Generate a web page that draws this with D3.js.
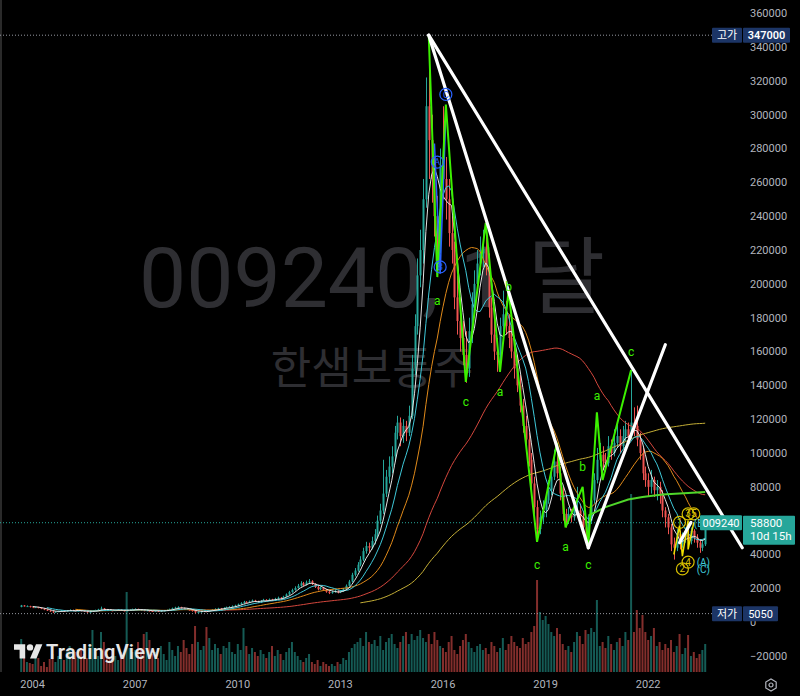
<!DOCTYPE html>
<html><head><meta charset="utf-8">
<script src="https://cdn.jsdelivr.net/npm/d3@7"></script>
<style>html,body{margin:0;padding:0;background:#000;}svg{display:block}</style>
</head><body>
<svg id="c" width="800" height="696"></svg>
<script>
// Monthly bars from 2003-09 to 2023-09, prices in thousands of won
const firstMonth = "2003-09";
const open = [
9.0,9.9,9.4,9.5,8.9,8.7,8.9,8.5,8.0,7.4,6.9,6.4,
5.9,6.2,6.5,6.8,6.6,6.9,7.2,6.8,6.6,7.0,6.7,6.4,
5.9,6.2,6.7,7.1,7.5,8.1,7.6,7.2,7.0,6.8,7.1,7.4,
7.0,6.7,7.0,7.3,7.6,7.8,7.4,7.1,6.8,7.0,6.6,6.5,
6.8,6.4,6.7,6.9,7.2,7.6,8.2,8.6,8.9,8.4,8.0,7.6,
7.2,6.6,5.8,6.0,6.4,6.6,6.3,6.9,7.4,7.8,8.1,8.0,
8.4,8.8,9.0,9.4,9.8,10.5,11.2,12.0,11.6,12.2,12.8,12.4,
11.8,12.6,13.2,12.8,13.4,13.0,13.8,14.4,13.9,15.0,16.4,17.8,
19.0,20.2,21.5,23.0,22.0,23.5,24.2,22.6,20.8,19.5,20.5,19.2,
18.0,17.2,17.8,18.6,17.6,18.2,19.5,21.5,24.0,28.0,30.5,34.0,
37,42,45,44,48,52,60,66,76,86,92,98,
112,118,110,116,112,122,150,175,205,220,250,305,
285,262,240,225,270,262,250,230,220,192,178,168,
158,150,172,188,200,212,218,222,210,186,170,160,
158,175,182,175,168,160,150,140,128,116,108,96,
82,68,55,62,66,72,78,86,95,88,76,64,
60,64,62,66,66,62,56,50,60,72,84,96,
99,95,94,104,100,106,110,104,110,114,110,118,
116,108,100,88,84,80,84,78,80,76,66,62,
56,46,44,52,46,50,52,48,54,50,47,44,
46];
const high = [
10.2,10.1,9.9,9.7,9.2,9.3,9.1,8.7,8.2,7.6,7.1,6.6,
6.5,6.8,7.1,7.0,7.2,7.6,7.4,7.0,7.3,7.2,6.9,6.5,
6.4,6.9,7.4,7.9,9.2,8.4,7.8,7.5,7.3,7.4,7.7,7.6,
7.2,7.3,7.6,8.0,8.2,8.0,7.6,7.3,7.3,7.2,6.9,7.1,
7.0,7.0,7.2,7.5,8.0,8.6,9.1,9.4,9.1,8.6,8.2,7.8,
7.4,6.8,6.3,6.7,6.9,6.8,7.2,7.7,8.2,8.5,8.4,8.8,
9.2,9.5,9.9,10.3,11.0,11.8,12.6,12.4,12.8,13.4,13.2,12.7,
13.1,13.8,13.6,14.0,13.8,14.4,15.1,14.8,15.6,17.0,18.5,19.8,
21.2,22.6,24.2,23.8,24.6,25.5,24.8,23.0,21.4,21.2,20.9,19.6,
18.4,18.5,19.3,18.9,18.9,20.2,22.3,25.0,29.2,32.0,35.5,39.0,
44,47.5,47,50.5,55,63,70,96,90,98,104,116,
122,121,120,119,128,158,182,215,232,262,322,347,
300,275,252,280,305,275,262,240,225,205,192,178,
172,180,195,208,220,228,232,236,218,192,182,168,
180,196,190,182,176,168,158,146,132,122,112,100,
86,72,66,72,76,84,92,102,106,92,80,67,
68,67,70,80,70,65,58,63,75,88,103,106,
104,100,110,108,114,117,114,116,119,118,149,127,
128,112,103,92,88,90,86,84,83,78,68,64,
58,50,55,54,53,56,54,56,55,52,49,49,
60.5];
const low = [
8.8,9.2,9.1,8.7,8.4,8.5,8.2,7.7,7.1,6.6,6.1,5.4,
5.6,6.0,6.3,6.3,6.4,6.8,6.5,6.3,6.4,6.4,6.1,5.5,
5.6,6.0,6.5,7.0,7.3,7.3,6.9,6.7,6.5,6.6,6.9,6.8,
6.4,6.5,6.8,7.1,7.3,7.1,6.8,6.5,6.6,6.3,6.2,6.3,
6.1,6.2,6.5,6.7,7.0,7.4,8.0,8.3,8.1,7.7,7.2,6.8,
6.2,5.3,5.05,5.6,6.1,5.9,6.1,6.7,7.2,7.6,7.7,7.8,
8.2,8.6,8.8,9.1,9.5,10.2,10.9,11.2,11.3,11.9,12.0,11.4,
11.5,12.3,12.4,12.5,12.6,12.8,13.5,13.4,13.7,14.8,16.0,17.4,
18.6,19.8,21.0,21.2,21.6,23.0,22.0,20.2,18.8,19.0,18.6,17.4,
16.6,16.8,17.4,17.0,17.2,17.9,19.2,21.0,23.5,27.0,29.8,33.0,
36,40.5,41.5,43,46,50,58,64,74,82,88,95,
108,104,106,107,110,120,146,170,198,212,245,262,
248,228,206,218,250,238,222,212,185,170,160,152,
141.5,145,165,180,195,205,210,205,180,165,155,148,
152,168,170,162,156,144,136,124,112,102,92,78,
64,47.5,52,58,62,70,75,84,85,72,60,56,
58,59,60,62,60,53,45.8,48,58,70,82,92,
90,89,92,96,98,103,100,102,107,105,108,110,
104,96,84,80,74,76,74,72,70,62,56,52,
42,37,42,43,44,47,45,46,47,44,41,42,
45];
const close = [
9.9,9.4,9.5,8.9,8.7,8.9,8.5,8.0,7.4,6.9,6.4,5.9,
6.2,6.5,6.8,6.6,6.9,7.2,6.8,6.6,7.0,6.7,6.4,5.9,
6.2,6.7,7.1,7.5,8.1,7.6,7.2,7.0,6.8,7.1,7.4,7.0,
6.7,7.0,7.3,7.6,7.8,7.4,7.1,6.8,7.0,6.6,6.5,6.8,
6.4,6.7,6.9,7.2,7.6,8.2,8.6,8.9,8.4,8.0,7.6,7.2,
6.6,5.8,6.0,6.4,6.6,6.3,6.9,7.4,7.8,8.1,8.0,8.4,
8.8,9.0,9.4,9.8,10.5,11.2,12.0,11.6,12.2,12.8,12.4,11.8,
12.6,13.2,12.8,13.4,13.0,13.8,14.4,13.9,15.0,16.4,17.8,19.0,
20.2,21.5,23.0,22.0,23.5,24.2,22.6,20.8,19.5,20.5,19.2,18.0,
17.2,17.8,18.6,17.6,18.2,19.5,21.5,24.0,28.0,30.5,34.0,37.0,
42,45,44,48,52,60,66,76,86,92,98,112,
118,110,116,112,122,150,175,205,220,250,305,285,
262,240,225,270,262,250,230,220,192,178,168,158,
150,172,188,200,212,218,222,210,186,170,160,158,
175,182,175,168,160,150,140,128,116,108,96,82,
68,55,62,66,72,78,86,95,88,76,64,60,
64,62,66,66,62,56,50,60,72,84,96,99,
95,94,104,100,106,110,104,110,114,110,118,116,
108,100,88,84,80,84,78,80,76,66,62,56,
46,44,52,46,50,52,48,54,50,47,44,46,
58.8];
// volume (relative units)
const volume = [
33,16,10,9,8,20,14,6,10,5,13,18,
10,16,22,12,20,26,14,20,16,24,18,14,
28,42,20,16,40,30,18,14,22,16,12,20,
18,80,24,20,22,30,24,38,40,32,18,20,
14,26,18,12,30,22,16,26,20,32,24,18,
28,46,30,22,26,45,34,22,28,24,18,26,
24,30,20,18,28,22,44,26,18,24,20,16,
22,18,14,20,26,16,22,18,12,20,24,30,
20,16,12,10,14,18,10,8,12,6,10,8,
6,8,6,10,8,14,12,20,24,28,30,34,
26,40,30,28,32,26,36,22,30,34,38,28,
24,30,36,40,28,38,32,36,42,34,30,38,
28,40,32,26,24,20,30,36,22,18,26,32,
38,30,24,20,26,28,22,24,18,30,26,20,
24,34,22,28,36,30,26,24,34,28,30,40,
46,92,60,52,56,48,40,36,44,38,28,22,
26,20,30,40,36,28,42,38,44,40,72,26,
30,24,36,28,22,30,34,26,40,32,178,40,
62,44,57,40,32,36,44,26,30,22,28,24,
32,20,26,38,18,24,37,16,20,14,18,22,
28];
const priceTicks = [360,340,320,300,280,260,240,220,200,180,160,140,120,100,80,60,40,20,0,-20];
const yearTicks = [2004,2007,2010,2013,2016,2019,2022];
const maPeriods = [120,60,20,10,5];
const maColors = {5:"#e4e4e4",10:"#3fc8d8",20:"#e08a1a",60:"#d4473d",120:"#c4ae36"};
const allTimeHigh = 347, allTimeLow = 5.05, lastPrice = 58.8;
// drawings (month, price in thousands)
const trendLines = [
  [["2015-08",347],["2024-10",44]],
  [["2015-08",347],["2020-04",44]],
  [["2020-04",44],["2022-07",164]],
  [["2022-12",47],["2023-04",59]]
];
const waveLine = [["2015-08",347],["2015-11",204],["2016-02",306],["2016-09",142],["2017-04",236],["2017-09",148],["2017-12",196],["2018-10",47.5],["2019-05",106],["2019-08",56],["2020-02",80],["2020-04",45.8],["2020-07",124],["2020-09",84],["2021-07",149]];
const waveLabels = [["a","2015-11",190],["c","2016-09",130],["a","2017-09",136],["b","2017-12",198],["c","2018-10",34],["a","2019-08",44.5],["c","2020-04",34],["b","2020-02",92],["a","2020-07",134],["c","2021-07",160]];
const greenCurve = [["2020-04",63],["2020-10",68],["2021-06",72.5],["2021-11",74],["2022-06",75.5],["2023-09",77]];
const blueWave = [["2015-10",283],["2015-12",206],["2016-02",300]];
const blueLabels = [["C","2016-02",312],["A","2015-11",272],["B","2015-12",210]];
const yellowWave = [["2022-10",40],["2022-12",57],["2023-01",39],["2023-03",60],["2023-03",43],["2023-05",59]];
const yellowLabels = [["1","2022-12",59],["3","2023-03",64],["5","2023-05",64],["4","2023-03",35.5],["2","2023-01",31.5]];
const cyanLabels = [["(A)","2023-06",35.5],["(C)","2023-06",31],["(B","2023-05",58.6]];

const FONT = "Roboto, 'Noto Sans CJK KR', sans-serif";
const svg = d3.select("#c");
const x = d3.scaleLinear().domain([0,240]).range([21.2,705.2]);
const y = d3.scaleLinear().domain([-20,360]).range([656,13.2]);
const yv = d3.scaleLinear().domain([0,180]).range([672,492]);
const idx = m => { const [yy,mm] = m.split("-").map(Number); const [y0,m0] = firstMonth.split("-").map(Number); return (yy-y0)*12+(mm-m0); };
const px = p => x(idx(p[0])), py = p => y(p[1]);

svg.append("rect").attr("width",800).attr("height",696).attr("fill","#000");
svg.append("line").attr("x1",1).attr("x2",1).attr("y1",0).attr("y2",672).attr("stroke","#2a2a2a").attr("stroke-width",2);

// watermark
svg.append("text").attr("x",372).attr("y",307).attr("text-anchor","middle")
  .attr("font-family",FONT).attr("font-size",84).attr("fill","#2e2e32").text("009240, 1 달");
svg.append("text").attr("x",372).attr("y",384).attr("text-anchor","middle")
  .attr("font-family",FONT).attr("font-size",44).attr("fill","#2e2e32").text("한샘보통주");

svg.append("clipPath").attr("id","clip").append("rect").attr("x",0).attr("y",0).attr("width",748).attr("height",672);
const g = svg.append("g").attr("clip-path","url(#clip)");

const idxs = d3.range(close.length);
const up = i => close[i] >= open[i];

// volume
g.append("g").selectAll("rect").data(idxs).join("rect")
  .attr("x", i => x(i)-1).attr("width",2)
  .attr("y", i => yv(volume[i])).attr("height", i => yv(0)-yv(volume[i]))
  .attr("fill", i => up(i) ? "rgba(38,166,154,0.55)" : "rgba(239,83,80,0.55)");

// dotted reference lines
g.append("line").attr("x1",0).attr("x2",712).attr("y1",y(allTimeHigh)).attr("y2",y(allTimeHigh)).attr("stroke","#9598a1").attr("stroke-dasharray","1,2");
g.append("line").attr("x1",0).attr("x2",712).attr("y1",y(allTimeLow)).attr("y2",y(allTimeLow)).attr("stroke","#9598a1").attr("stroke-dasharray","1,2");
g.append("line").attr("x1",0).attr("x2",700).attr("y1",y(lastPrice)).attr("y2",y(lastPrice)).attr("stroke","#26a69a").attr("stroke-dasharray","1,2");

// candles
const cg = g.append("g");
cg.selectAll("line").data(idxs).join("line")
  .attr("x1", i => Math.round(x(i))+0.5).attr("x2", i => Math.round(x(i))+0.5)
  .attr("y1", i => y(high[i])).attr("y2", i => y(low[i]))
  .attr("stroke", i => up(i) ? "#26a69a" : "#ef5350").attr("stroke-width",1);
cg.selectAll("rect").data(idxs).join("rect")
  .attr("x", i => Math.round(x(i))-0.5).attr("width",2)
  .attr("y", i => y(Math.max(open[i],close[i])))
  .attr("height", i => Math.max(1, Math.abs(y(open[i])-y(close[i]))))
  .attr("fill", i => up(i) ? "#26a69a" : "#ef5350");

// moving averages
maPeriods.forEach(n => {
  const ma = close.map((_,i) => i < n-1 ? null : d3.mean(close.slice(i-n+1,i+1)));
  g.append("path").datum(idxs)
    .attr("d", d3.line().defined(i => ma[i] !== null).x(i => x(i)).y(i => y(ma[i])))
    .attr("fill","none").attr("stroke",maColors[n]).attr("stroke-width",1);
});

// drawings
const pline = d3.line().x(px).y(py);
g.append("path").datum(greenCurve).attr("d",pline).attr("fill","none").attr("stroke","#4fd62a").attr("stroke-width",2);
g.append("path").datum(blueWave).attr("d",pline).attr("fill","none").attr("stroke","#2962ff").attr("stroke-width",1.5);
g.append("path").datum(waveLine).attr("d",pline).attr("fill","none").attr("stroke","#3cf000").attr("stroke-width",2);
g.append("path").datum(yellowWave).attr("d",pline).attr("fill","none").attr("stroke","#f0e000").attr("stroke-width",1.5);
trendLines.forEach(l => g.append("path").datum(l).attr("d",pline).attr("fill","none")
  .attr("stroke","#ffffff").attr("stroke-width",3.2).attr("stroke-linecap","round"));

waveLabels.forEach(d => g.append("text").attr("x",px([d[1]])).attr("y",py([0,d[2]]))
  .attr("text-anchor","middle").attr("dy","0.35em").attr("font-family",FONT).attr("font-size",12)
  .attr("fill","#3cf000").text(d[0]));
blueLabels.forEach(d => {
  const cx = px([d[1]]), cy = py([0,d[2]]);
  g.append("circle").attr("cx",cx).attr("cy",cy).attr("r",6).attr("fill","none").attr("stroke","#2962ff").attr("stroke-width",1.2);
  g.append("text").attr("x",cx).attr("y",cy).attr("dy","0.35em").attr("text-anchor","middle")
    .attr("font-family",FONT).attr("font-size",9).attr("fill","#2962ff").text(d[0]);
});
yellowLabels.forEach(d => {
  const cx = px([d[1]]), cy = py([0,d[2]]);
  g.append("circle").attr("cx",cx).attr("cy",cy).attr("r",6).attr("fill","none").attr("stroke","#d8c000").attr("stroke-width",1.2);
  g.append("text").attr("x",cx).attr("y",cy).attr("dy","0.35em").attr("text-anchor","middle")
    .attr("font-family",FONT).attr("font-size",10).attr("fill","#d8c000").text(d[0]);
});
cyanLabels.forEach(d => g.append("text").attr("x",px([d[1]])).attr("y",py([0,d[2]])).attr("dy","0.35em")
  .attr("text-anchor","start").attr("font-family",FONT).attr("font-size",10).attr("fill","#3fc8d8").text(d[0]));

// price axis labels
const fmt = d3.format("d");
svg.append("g").selectAll("text").data(priceTicks).join("text")
  .attr("x",750).attr("y", d => y(d)).attr("dy","0.35em")
  .attr("font-family",FONT).attr("font-size",11).attr("fill","#b2b5be")
  .text(d => fmt(d*1000));

// time axis labels
svg.append("g").selectAll("text").data(yearTicks).join("text")
  .attr("x", d => x(idx(d+"-01"))).attr("y",688).attr("text-anchor","middle")
  .attr("font-family",FONT).attr("font-size",11).attr("fill","#b2b5be").text(d => d);

// boxes on price axis
function box(x0,w,yc,h,fill,txt,bold){
  svg.append("rect").attr("x",x0).attr("y",yc-h/2).attr("width",w).attr("height",h).attr("fill",fill).attr("rx",1);
  svg.append("text").attr("x",x0+w/2).attr("y",yc).attr("dy","0.36em").attr("text-anchor","middle")
    .attr("font-family",FONT).attr("font-size",11).attr("font-weight",bold?600:400).attr("fill","#ffffff").text(txt);
}
box(712,30,y(allTimeHigh),15,"#1c3566","고가");
box(743,47,y(allTimeHigh),15,"#1c3566",fmt(allTimeHigh*1000),true);
box(712,30,y(allTimeLow),15,"#1c3566","저가");
box(743,35,y(allTimeLow),15,"#1c3566",fmt(Math.round(allTimeLow*1000)));
box(700,42,y(lastPrice),15,"#26a69a","009240");
svg.append("rect").attr("x",743).attr("y",y(lastPrice)-7).attr("width",52).attr("height",29).attr("fill","#26a69a").attr("rx",1);
svg.append("text").attr("x",750).attr("y",y(lastPrice)).attr("dy","0.36em").attr("font-family",FONT).attr("font-size",11.5).attr("fill","#fff").text(fmt(lastPrice*1000));
svg.append("text").attr("x",750).attr("y",y(lastPrice)+13).attr("dy","0.36em").attr("font-family",FONT).attr("font-size",11.5).attr("fill","#fff").text("10d 15h");

// gear icon
const gi = svg.append("g").attr("transform","translate(771,685)");
gi.append("path").attr("d", d3.range(6).map((k,j) => { const a = Math.PI/3*k + Math.PI/6; return (j?"L":"M")+(6*Math.cos(a)).toFixed(2)+","+(6*Math.sin(a)).toFixed(2); }).join("")+"Z")
  .attr("fill","none").attr("stroke","#b2b5be").attr("stroke-width",1.2);
gi.append("circle").attr("r",2).attr("fill","none").attr("stroke","#b2b5be").attr("stroke-width",1.2);

// TradingView logo
const lg = svg.append("g").attr("transform","translate(14,641) scale(0.8)").attr("fill","#e6e6e6");
lg.append("path").attr("d","M14 22H7V11H0V4h14v18zM28 22h-8l7.5-18h8L28 22z");
lg.append("circle").attr("cx",20).attr("cy",8).attr("r",4);
svg.append("text").attr("x",46).attr("y",659).attr("font-family",FONT).attr("font-size",20).attr("font-weight",600)
  .attr("textLength",114).attr("fill","#e6e6e6").text("TradingView");
</script>
</body></html>
